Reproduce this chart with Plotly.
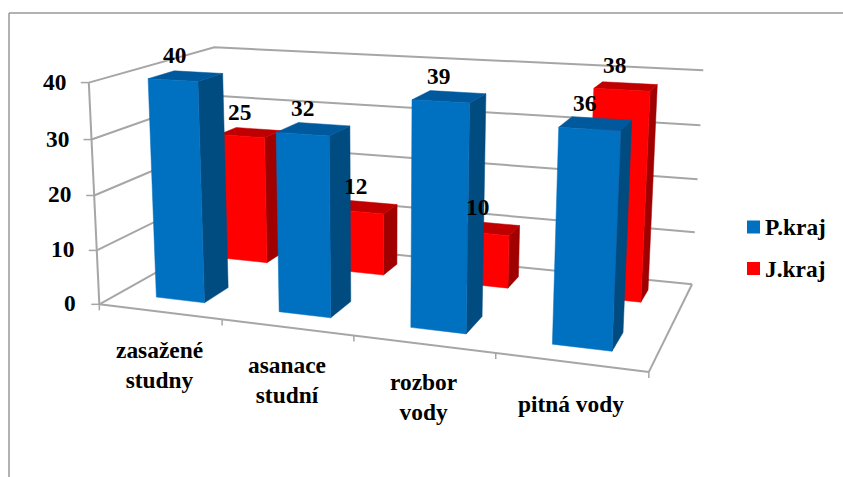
import numpy as np
import plotly.graph_objects as go

# Chart data
categories = ["zasažené<br>studny", "asanace<br>studní", "rozbor<br>vody", "pitná vody"]
p_kraj = [40, 32, 39, 36]
j_kraj = [25, 12, 10, 38]
z_ticks = [0, 10, 20, 30, 40]

W, H = 843, 477

# Chart box reference points: (category, depth, value) -> canvas position
BOX = [((0, 0, 0), (101, 302)), ((4, 0, 0), (648, 373)), ((4, 1, 0), (692, 281)), ((0, 1, 0), (218, 241)),
       ((0, 0, 40), (88, 83)), ((4, 1, 40), (703, 73)), ((0, 1, 40), (215, 47)),
       ((1, 0, 0), (223, 320)), ((2, 0, 0), (354, 337)), ((3, 0, 0), (495, 357)),
       ((0, 0, 10), (97, 248)), ((0, 0, 20), (94, 194)), ((0, 0, 30), (91, 139)),
       ((4, 1, 10), (695, 230)), ((4, 1, 20), (698, 177)), ((4, 1, 30), (701, 126))]


def solve_projection(box):
    """Least-squares 3x4 perspective matrix for the chart box."""
    A, b = [], []
    for (x, y, z), (u, v) in box:
        A.append([x, y, z, 1, 0, 0, 0, 0, -u * x, -u * y, -u * z])
        b.append(u)
        A.append([0, 0, 0, 0, x, y, z, 1, -v * x, -v * y, -v * z])
        b.append(v)
    m = np.linalg.lstsq(np.array(A, float), np.array(b, float), rcond=None)[0]
    return np.append(m, 1).reshape(3, 4)


P = solve_projection(BOX)


def project(x, y, z):
    h = P @ np.array([x, y, z, 1.0])
    return h[0] / h[2], h[1] / h[2]


# front, side, top face colours
BLUE = ("#0070C0", "#004B80", "#00599C")
RED = ("#FF0000", "#A00000", "#C00000")
GRID = "#A6A6A6"
BAR_X = (0.31, 0.71)
ROW_BLUE = (0.15, 0.35)
ROW_RED = (0.71, 0.87)
CATEGORY_DROP = [23, 23, 23, 27]

fig = go.Figure()


def poly(faces, color, name):
    xs, ys = [], []
    for f in faces:
        for p in f + [f[0]]:
            u, v = project(*p)
            xs.append(u)
            ys.append(v)
        xs.append(None)
        ys.append(None)
    fig.add_trace(go.Scatter(x=xs, y=ys, mode="lines", fill="toself", fillcolor=color,
                             line=dict(color=color, width=0.5), hoverinfo="skip",
                             name=name, showlegend=False))


def bars(vals, row, col, name):
    y0, y1 = row
    front, side, top = [], [], []
    for c, v in enumerate(vals):
        x0, x1 = c + BAR_X[0], c + BAR_X[1]
        front.append([(x0, y0, 0), (x1, y0, 0), (x1, y0, v), (x0, y0, v)])
        side.append([(x1, y0, 0), (x1, y1, 0), (x1, y1, v), (x1, y0, v)])
        top.append([(x0, y0, v), (x1, y0, v), (x1, y1, v), (x0, y1, v)])
    poly(side, col[1], name)
    poly(top, col[2], name)
    poly(front, col[0], name)


def segments(segs, width=2):
    xs, ys = [], []
    for seg in segs:
        for u, v in seg:
            xs.append(u)
            ys.append(v)
        xs.append(None)
        ys.append(None)
    fig.add_trace(go.Scatter(x=xs, y=ys, mode="lines", line=dict(color=GRID, width=width),
                             hoverinfo="skip", showlegend=False))


# Gridlines on the two walls, then the axis frame and tick marks
segments([[project(0, 0, z), project(0, 1, z), project(4, 1, z)] for z in z_ticks])
segments([[project(0, 0, 0), project(0, 0, z_ticks[-1])],
          [project(0, 0, 0), project(4, 0, 0)],
          [project(4, 0, 0), project(4, 1, 0)]])
z_marks = []
for z in z_ticks:
    u, v = project(0, 0, z)
    z_marks.append([(u - 8, v), (u, v)])
x_marks = []
for c in range(len(categories) + 1):
    u, v = project(c, 0, 0)
    x_marks.append([(u, v), (u, v + 6)])
segments(z_marks + x_marks, width=1.5)

bars(j_kraj, ROW_RED, RED, "J.kraj")
bars(p_kraj, ROW_BLUE, BLUE, "P.kraj")

FONT = dict(family="Liberation Serif", size=23.4, color="black")
ann = []


def txt(u, v, t, **kw):
    ann.append(dict(x=u, y=v, xref="x", yref="y", text=f"<b>{t}</b>", showarrow=False, font=FONT, **kw))


# Value labels sit above each bar's top face
for c, v in enumerate(p_kraj):
    u, w = project(c + sum(BAR_X) / 2, sum(ROW_BLUE) / 2, v)
    txt(u - 11, w - 21, v)
for c, v in enumerate(j_kraj):
    u, w = project(c + sum(BAR_X) / 2, sum(ROW_RED) / 2, v)
    txt(u - 11, w - 21, v)
for c, t in enumerate(categories):
    u, w = project(c + 0.5, 0, 0)
    txt(u, w + CATEGORY_DROP[c], t, yanchor="top")
for z in z_ticks:
    u, w = project(0, 0, z)
    txt(u - 21, w - 1, z, xanchor="right")

shapes = [dict(type="line", x0=9, x1=W, y0=13, y1=13, xref="x", yref="y", line=dict(color="#999999", width=1.5)),
          dict(type="line", x0=9, x1=9, y0=13, y1=H, xref="x", yref="y", line=dict(color="#999999", width=1.5))]
for name, col, yy in (("P.kraj", BLUE[0], 227), ("J.kraj", RED[0], 268.5)):
    shapes.append(dict(type="rect", x0=747, x1=760, y0=yy - 6.5, y1=yy + 6.5, xref="x", yref="y",
                       fillcolor=col, line=dict(width=0)))
    txt(763, yy, name, xanchor="left")

fig.update_layout(width=W, height=H, margin=dict(l=0, r=0, t=0, b=0), paper_bgcolor="white",
                  plot_bgcolor="white", showlegend=False,
                  xaxis=dict(visible=False, range=[0, W], fixedrange=True),
                  yaxis=dict(visible=False, range=[H, 0], fixedrange=True),
                  annotations=ann, shapes=shapes)
fig.write_html("out.html")
